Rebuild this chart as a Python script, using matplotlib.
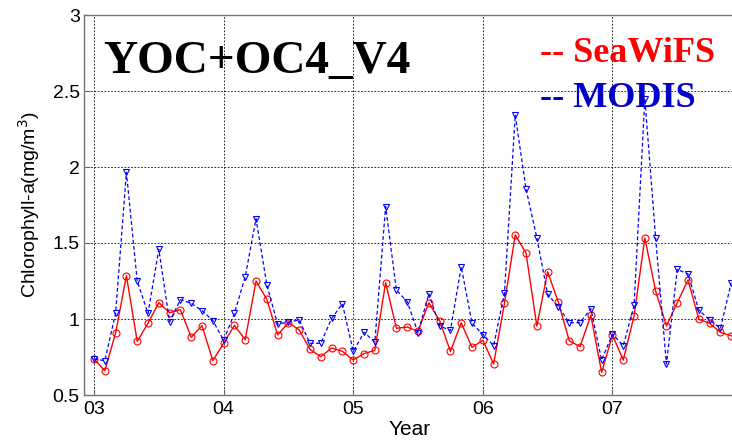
import numpy as np
import matplotlib
matplotlib.use('Agg')
import matplotlib.pyplot as plt

# monthly mean chlorophyll-a, Jan 2003 .. Dec 2007
seawifs = [0.737, 0.66, 0.908, 1.285, 0.853, 0.972, 1.107, 1.041, 1.061, 0.88, 0.956, 0.726,
           0.84, 0.958, 0.864, 1.25, 1.13, 0.895, 0.976, 0.928, 0.80, 0.752, 0.809, 0.787,
           0.73, 0.772, 0.794, 1.239, 0.939, 0.947, 0.919, 1.107, 0.989, 0.787, 0.974, 0.813,
           0.86, 0.704, 1.103, 1.553, 1.434, 0.954, 1.311, 1.109, 0.857, 0.818, 1.024, 0.649,
           0.895, 0.73, 1.02, 1.533, 1.184, 0.954, 1.107, 1.257, 0.998, 0.972, 0.912, 0.89]
modis = [0.737, 0.726, 1.037, 1.965, 1.25, 1.037, 1.458, 0.982, 1.127, 1.103, 1.055, 0.99,
         0.86, 1.037, 1.278, 1.66, 1.226, 0.966, 0.98, 0.993, 0.84, 0.84, 1.004, 1.10,
         0.787, 0.912, 0.849, 1.739, 1.189, 1.114, 0.91, 1.166, 0.954, 0.925, 1.344, 0.972,
         0.898, 0.825, 1.169, 2.342, 1.855, 1.535, 1.162, 1.081, 0.976, 0.976, 1.068, 0.73,
         0.901, 0.824, 1.089, 2.45, 1.533, 0.704, 1.326, 1.296, 1.059, 0.993, 0.939, 1.239]
year_labels = ['03', '04', '05', '06', '07']
yticks = [0.5, 1, 1.5, 2, 2.5, 3]

months = np.arange(len(seawifs))

W, H = 732, 443
fig = plt.figure(figsize=(W / 100, H / 100), dpi=100)
ax = fig.add_axes([84 / W, 1 - 395 / H, (736 - 84) / W, 380 / H])

ax.plot(months, seawifs, '-', color='red', linewidth=1.0,
        marker='o', markersize=5, markerfacecolor='none', markeredgewidth=0.8, zorder=3)
ax.plot(months, modis, '--', color='blue', linewidth=0.9, dashes=(3, 2),
        marker='v', markersize=5, markerfacecolor='none', markeredgewidth=0.8, zorder=4)

ax.set_xlim(-0.926, 59.44)
ax.set_ylim(0.5, 3)
ax.set_xticks(np.arange(len(year_labels)) * 12)
ax.set_xticklabels(year_labels)
ax.set_yticks(yticks)
ax.set_yticklabels(['0.5', '1', '1.5', '2', '2.5', '3'])

ax.grid(True, color='black', linestyle=(0, (2, 2)), linewidth=0.6)
ax.tick_params(direction='in', length=4, labelsize=14, width=0.8, color='0.4')
ax.tick_params(axis='x', pad=4)
ax.tick_params(axis='y', pad=3)
for lab in ax.get_xticklabels() + ax.get_yticklabels():
    lab.set_family('Liberation Sans')
for s in ax.spines.values():
    s.set_color('0.45')
    s.set_linewidth(1.0)

ax.set_ylabel('Chlorophyll-a(mg/m$^3$)', fontsize=14, family='Liberation Sans', labelpad=8)
ax.set_xlabel('Year', fontsize=15, family='Liberation Sans', labelpad=2)

fig.text(103 / W, 1 - 73 / H, 'YOC+OC4_V4', fontsize=34, fontweight='bold',
         family='Liberation Serif', color='black', va='baseline', ha='left')
fig.text(540 / W, 1 - 62 / H, '-- SeaWiFS', fontsize=26, fontweight='bold',
         family='Liberation Serif', color='#ff0000', va='baseline', ha='left')
fig.text(540 / W, 1 - 107 / H, '-- MODIS', fontsize=26, fontweight='bold',
         family='Liberation Serif', color='#0000c8', va='baseline', ha='left')

fig.savefig('out.png', dpi=100)
